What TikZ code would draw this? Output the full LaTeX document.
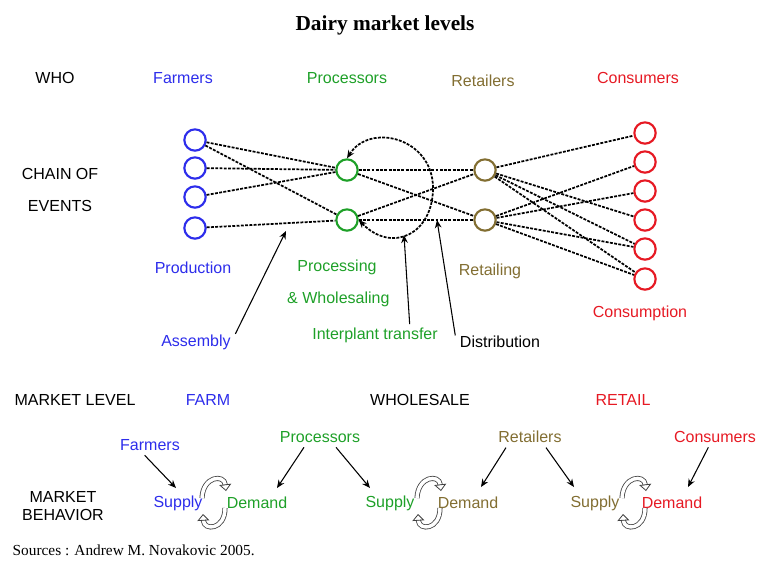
\documentclass[tikz,border=0pt]{standalone}
\usepackage{fontspec}
\setmainfont{Liberation Serif}
\setsansfont{Liberation Sans}
\usetikzlibrary{arrows.meta}

\definecolor{farmblue}{RGB}{45,45,235}
\definecolor{procgreen}{RGB}{30,160,40}
\definecolor{retolive}{RGB}{130,110,50}
\definecolor{consred}{RGB}{230,25,35}

\begin{document}
\begin{tikzpicture}[x=0.75pt,y=-0.75pt,
  every node/.style={font=\sffamily\fontsize{12}{14}\selectfont},
  actor/.style={circle,draw,line width=1.6pt,minimum size=16pt,inner sep=0pt},
  flow/.style={line width=1.3pt,dash pattern=on 2.2pt off 1pt},
  pointer/.style={-{Stealth[length=6pt,width=5pt]},line width=0.8pt},
  turnarrow/.style={draw=gray!50!black,double=white,double distance=2.6pt,line width=0.6pt,
    -{Triangle[open,length=5pt,width=9pt]}}]
 \useasboundingbox (0,0) rectangle (760,562);

 % title and row headings
 \node[font=\rmfamily\bfseries\fontsize{16}{18}\selectfont] (title) at (385,25) {Dairy market levels};
 \node (who) at (55,78) {WHO};
 \node[align=center] (chain) at (60,190) {CHAIN OF\\[10pt]EVENTS};
 \node (marketlevel) at (75,400) {MARKET LEVEL};
 \node[align=center,font=\sffamily\fontsize{12}{13}\selectfont] (behavior) at (63,506) {MARKET\\BEHAVIOR};

 % who
 \node[farmblue]  (farmers)    at (183,78) {Farmers};
 \node[procgreen] (processors) at (347,78) {Processors};
 \node[retolive]  (retailers)  at (483,81) {Retailers};
 \node[consred]   (consumers)  at (638,78) {Consumers};

 % chain of events
 \foreach \i/\y in {1/140,2/168,3/197,4/228}
   \node[actor,farmblue] (f\i) at (195,\y) {};
 \node[actor,procgreen] (p1) at (347,170) {};
 \node[actor,procgreen] (p2) at (347,220) {};
 \node[actor,retolive]  (r1) at (485,170) {};
 \node[actor,retolive]  (r2) at (485,220) {};
 \foreach \i/\y in {1/133,2/162,3/191,4/220,5/249,6/279}
   \node[actor,consred] (c\i) at (645,\y) {};

 \path[flow] (f1) edge (p1) edge (p2)
             (f2) edge (p1)
             (f3) edge (p1)
             (f4) edge (p2)
             (p1) edge (r1) edge (r2)
             (p2) edge (r1) edge (r2)
             (r1) edge (c1) edge (c4) edge (c5) edge (c6)
             (r2) edge (c2) edge (c3) edge (c5) edge (c6);
 \draw[flow,{Stealth[length=6pt,width=5pt]}-{Stealth[length=6pt,width=5pt]}]
   (p2.east) .. controls (392,254) and (433,234) .. (433,188)
             .. controls (433,138) and (370,122) .. (p1.north);

 \node[farmblue]  (production)  at (193,268) {Production};
 \node[procgreen,align=center] (processing) at (337,283) {Processing\\[10pt]\,\& Wholesaling};
 \node[retolive]  (retailing)   at (490,271) {Retailing};
 \node[consred]   (consumption) at (640,313) {Consumption};
 \node[farmblue]  (assembly)    at (196,342) {Assembly};
 \node[procgreen] (interplant)  at (375,335) {Interplant transfer};
 \node            (distribution) at (500,342) {Distribution};

 \coordinate (asmtip) at (286,231);
 \coordinate (transtip) at (404,235);
 \coordinate (disttip) at (437,220);
 \draw[pointer] ([yshift=-3pt]assembly.north east) -- (asmtip);
 \draw[pointer] ([xshift=26pt,yshift=-1pt]interplant.north) -- (transtip);
 \draw[pointer] ([yshift=-3pt]distribution.north west) -- (disttip);

 % market level
 \node[farmblue]  (farm)      at (208,400) {FARM};
 \node            (wholesale) at (420,400) {WHOLESALE};
 \node[consred]   (retail)    at (623,400) {RETAIL};

 % market behavior
 \node[farmblue]  (lfarmers)    at (150,445) {Farmers};
 \node[procgreen] (lprocessors) at (320,437) {Processors};
 \node[retolive]  (lretailers)  at (530,437) {Retailers};
 \node[consred]   (lconsumers)  at (715,437) {Consumers};

 \node[farmblue]  (supplyf) at (178,503) {Supply};
 \node[procgreen] (demandp) at (257,503) {Demand};
 \node[procgreen] (supplyp) at (390,503) {Supply};
 \node[retolive]  (demandr) at (468,503) {Demand};
 \node[retolive]  (supplyr) at (595,503) {Supply};
 \node[consred]   (demandc) at (672,503) {Demand};

 \foreach \cx in {215,430,635} {
   \draw[turnarrow] (\cx-13,498) .. controls (\cx-12,476) and (\cx+9,474) .. (\cx+11,491);
   \draw[turnarrow] (\cx+10,508) .. controls (\cx+10,530) and (\cx-11,531) .. (\cx-12,514);
 }

 \coordinate (tipsf) at (176,488);
 \coordinate (tipdp) at (277,488);
 \coordinate (tipsp) at (370,488);
 \coordinate (tipdr) at (481,487);
 \coordinate (tipsr) at (574,487);
 \coordinate (tipdc) at (688,487);
 \draw[pointer] ([xshift=-4pt]lfarmers.south) -- (tipsf);
 \draw[pointer] ([xshift=-12pt]lprocessors.south) -- (tipdp);
 \draw[pointer] ([xshift=12pt]lprocessors.south) -- (tipsp);
 \draw[pointer] ([xshift=-18pt]lretailers.south) -- (tipdr);
 \draw[pointer] ([xshift=12pt]lretailers.south) -- (tipsr);
 \draw[pointer] ([xshift=-5pt]lconsumers.south) -- (tipdc);

 \node[anchor=west,font=\rmfamily\fontsize{11.5}{13}\selectfont] (sources) at (8,550)
   {Sources : Andrew M. Novakovic 2005.};
\end{tikzpicture}
\end{document}
